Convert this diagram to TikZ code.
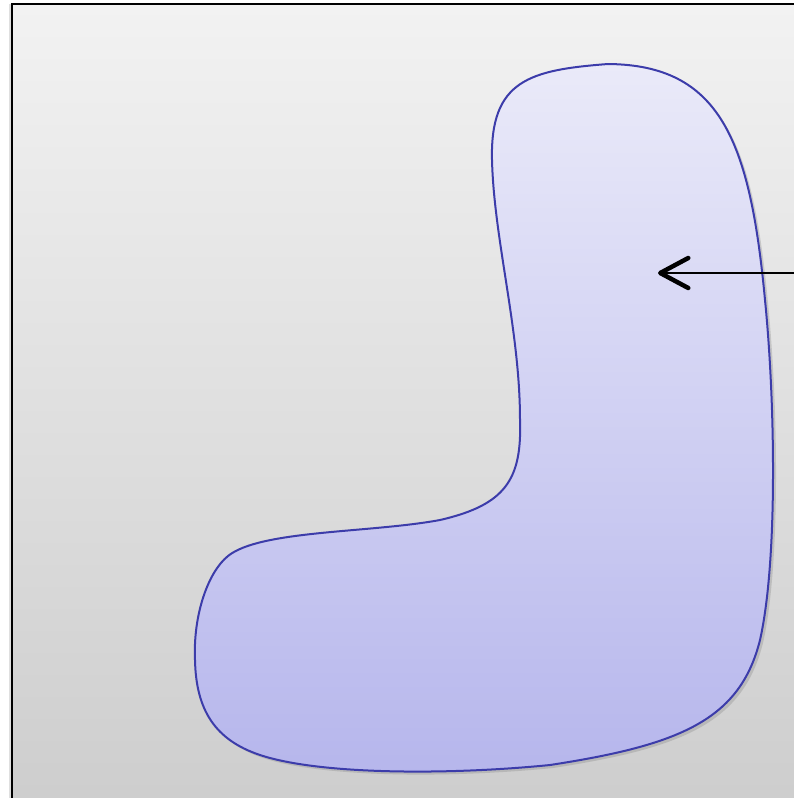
\documentclass[tikz,border=0pt]{standalone}
\usepackage{xcolor}
\usepackage{tikz}
\usetikzlibrary{arrows.meta,shadows}

\definecolor{bgtop}{HTML}{F2F2F2}
\definecolor{bgbottom}{HTML}{CCCCCC}
\definecolor{blobline}{HTML}{3C3CAA}
\definecolor{blobtop}{HTML}{EAEAF9}
\definecolor{blobbottom}{HTML}{B6B6EC}

\begin{document}
\begin{tikzpicture}[
    x=1pt, y=-1pt,
    frame/.style={draw=black, line width=2pt, top color=bgtop, bottom color=bgbottom,
        drop shadow={shadow xshift=-3pt, shadow yshift=0pt, opacity=0.25}},
    blob/.style={draw=blobline, line width=2pt, top color=blobtop, bottom color=blobbottom,
        drop shadow={shadow xshift=3pt, shadow yshift=-3pt, opacity=0.3}},
    pointer/.style={draw=black, line width=2pt,
        -{Straight Barb[length=28pt, width=30pt, line width=4.5pt, round]}}
]
\useasboundingbox (0,0) rectangle (794,798);
\clip (0,0) rectangle (794,798);

% Background frame
\path[frame] (12,4) rectangle (830,840);

% Region
\path[blob] (608,64)
    .. controls (530,70) and (490,80) .. (492,160)
    .. controls (494,240) and (520,330) .. (520,420)
    .. controls (522,480) and (505,505) .. (440,520)
    .. controls (370,533) and (260,530) .. (228,556)
    .. controls (208,572) and (193,615) .. (195,660)
    .. controls (196,710) and (215,740) .. (260,755)
    .. controls (320,775) and (450,775) .. (550,765)
    .. controls (680,745) and (740,720) .. (760,640)
    .. controls (778,560) and (775,400) .. (765,300)
    .. controls (750,140) and (720,65) .. (608,64) -- cycle;

% Arrow
\coordinate (arrowstart) at (800,273);
\coordinate (arrowtip) at (658,273);
\draw[pointer] (arrowstart) -- (arrowtip);
\end{tikzpicture}
\end{document}
